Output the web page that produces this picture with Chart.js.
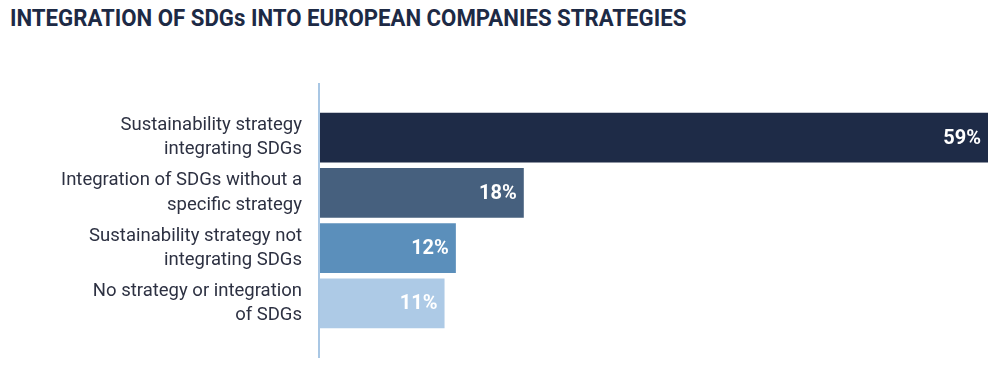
<!doctype html>
<html>

<head>
  <title>Integration of SDGs</title>
  <script src="https://cdn.jsdelivr.net/npm/chart.js@4/dist/chart.umd.min.js"></script>
</head>
<style>
  body {
    margin: 0;
    background: #ffffff;
    font-family: Roboto, sans-serif;
  }

  .wrap {
    position: relative;
    width: 1000px;
    height: 365px;
  }

  .title {
    position: absolute;
    left: 10px;
    top: 4px;
    margin: 0;
    font-size: 24px;
    font-weight: 700;
    color: #1d2a45;
    white-space: nowrap;
    transform-origin: left top;
    transform: scaleX(0.925);
  }

  .chartContainer {
    position: absolute;
    left: 0;
    top: 0;
    width: 1000px;
    height: 365px;
  }
</style>

<body>
  <div class="wrap">
    <h1 class="title" id="titleId">INTEGRATION OF SDGs INTO EUROPEAN COMPANIES STRATEGIES</h1>
    <div class="chartContainer">
      <canvas id="plot2dId"></canvas>
    </div>
  </div>
  <script>
    // data
    var categories = [
      ["Sustainability strategy", "integrating SDGs"],
      ["Integration of SDGs without a", "specific strategy"],
      ["Sustainability strategy not", "integrating SDGs"],
      ["No strategy or integration", "of SDGs"]
    ];
    var values = [59, 18, 12, 11];
    var barColors = ["#1e2b47", "#46607e", "#5b8fbb", "#adcae6"];

    // long light axis line that sticks out above and below the bars
    var axisLine = {
      id: 'axisLine',
      beforeDatasetsDraw: function (chart) {
        var a = chart.chartArea;
        var ctx = chart.ctx;
        ctx.save();
        ctx.strokeStyle = "#a9c7e4";
        ctx.lineWidth = 2;
        ctx.beginPath();
        ctx.moveTo(a.left - 1, a.top - 27);
        ctx.lineTo(a.left - 1, a.bottom + 27);
        ctx.stroke();
        ctx.restore();
      }
    };

    // white percent labels inside the bar ends
    var valueLabels = {
      id: 'valueLabels',
      afterDatasetsDraw: function (chart) {
        var ctx = chart.ctx;
        var meta = chart.getDatasetMeta(0);
        ctx.save();
        ctx.font = "bold 20px Roboto";
        ctx.fillStyle = "#ffffff";
        ctx.textAlign = "right";
        ctx.textBaseline = "middle";
        meta.data.forEach(function (bar, i) {
          ctx.fillText(values[i] + "%", bar.x - 7, bar.y + 1);
        });
        ctx.restore();
      }
    };

    function renderChart() {
      var ctx = document.getElementById("plot2dId").getContext('2d');
      var myChart = new Chart(ctx, {
        type: 'bar',
        data: {
          labels: categories,
          datasets: [{
            data: values,
            backgroundColor: barColors,
            borderWidth: 0,
            categoryPercentage: 1,
            barPercentage: 0.9
          }]
        },
        options: {
          indexAxis: 'y',
          responsive: true,
          maintainAspectRatio: false,
          animation: false,
          layout: {
            padding: { top: 110, bottom: 30, left: 0, right: 12 }
          },
          plugins: {
            legend: { display: false },
            tooltip: { enabled: false }
          },
          scales: {
            x: {
              display: false,
              min: 0,
              max: 59
            },
            y: {
              grid: { display: false },
              border: { display: false },
              afterFit: function (scale) { scale.width = 320; },
              ticks: {
                padding: 10,
                color: "#2d3142",
                font: { family: "Roboto", size: 18.5, lineHeight: 1.3 }
              }
            }
          }
        },
        plugins: [axisLine, valueLabels]
      });
    }
    renderChart();
  </script>
</body>

</html>
